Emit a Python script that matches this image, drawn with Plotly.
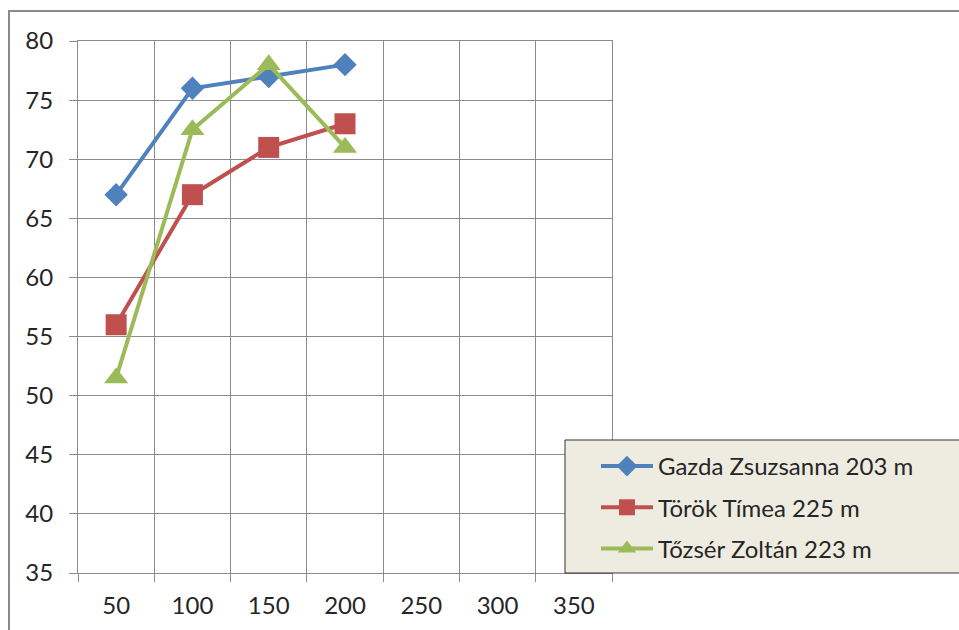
import plotly.graph_objects as go

categories = ["50", "100", "150", "200", "250", "300", "350"]
gazda_x = ["50", "100", "150", "200"]
gazda = [67, 76, 77, 78]
torok_x = ["50", "100", "150", "200"]
torok = [56, 67, 71, 73]
tozser_x = ["50", "100", "150", "200"]
tozser = [51.5, 72.5, 78, 71]
y_ticks = [35, 40, 45, 50, 55, 60, 65, 70, 75, 80]

names = ["Gazda Zsuzsanna 203 m", "Török Tímea 225 m", "Tőzsér Zoltán 223 m"]
colors = ["#4F81BD", "#C0504D", "#9BBB59"]
symbols = ["diamond", "square", "triangle-up"]
sizes = [18, 21, 21]

FONT = "Lato"
FS = 24
GRID = "#8C8C8C"

fig = go.Figure()
for i, (xs, ys) in enumerate([(gazda_x, gazda), (torok_x, torok), (tozser_x, tozser)]):
    fig.add_trace(go.Scatter(
        x=xs, y=ys, name=names[i], mode="lines+markers",
        line=dict(color=colors[i], width=4),
        marker=dict(symbol=symbols[i], size=sizes[i], color=colors[i]),
        legendgroup=f"g{i}",
    ))

fig.update_layout(
    width=959, height=630,
    margin=dict(l=78, r=347, t=41, b=57),
    paper_bgcolor="white", plot_bgcolor="white",
    font=dict(family=FONT, size=FS, color="#262626"),
    showlegend=True,
    legend=dict(
        x=0.970, y=0.2425, xanchor="left", yanchor="top",
        bgcolor="rgba(0,0,0,0)", borderwidth=0,
        font=dict(family=FONT, size=FS, color="#262626"),
        traceorder="grouped", tracegroupgap=7,
        itemwidth=52,
    ),
    xaxis=dict(
        type="category", categoryorder="array", categoryarray=categories,
        tickvals=categories, range=[-0.5, 6.5],
        tickson="boundaries", ticks="outside", ticklen=8, tickcolor=GRID, tickwidth=1,
        showgrid=True, gridcolor=GRID, gridwidth=1,
        showline=True, linecolor=GRID, linewidth=1, mirror=True,
        ticklabelstandoff=11, zeroline=False,
        tickfont=dict(family=FONT, size=FS, color="#262626"),
    ),
    yaxis=dict(
        range=[35, 80], tickvals=y_ticks,
        ticks="outside", ticklen=8, tickcolor=GRID, tickwidth=1,
        showgrid=True, gridcolor=GRID, gridwidth=1,
        showline=True, linecolor=GRID, linewidth=1, mirror=True,
        ticklabelstandoff=11, zeroline=False,
        tickfont=dict(family=FONT, size=FS, color="#262626"),
    ),
    shapes=[
        dict(type="rect", xref="paper", yref="paper",
             xsizemode="pixel", ysizemode="pixel", xanchor=0, yanchor=1,
             x0=-69, x1=1000, y0=-700, y1=30,
             line=dict(color="#8A8A8A", width=2), fillcolor="rgba(0,0,0,0)",
             layer="below"),
        dict(type="rect", xref="paper", yref="paper",
             x0=0.912, x1=1.8, y0=0, y1=0.25,
             line=dict(color="#333333", width=1), fillcolor="#EEECE1",
             layer="above"),
    ],
)

fig.write_html(
    "out.html",
    config={"displayModeBar": False},
    post_script="document.body.style.margin='0';document.body.style.overflow='hidden';",
)
